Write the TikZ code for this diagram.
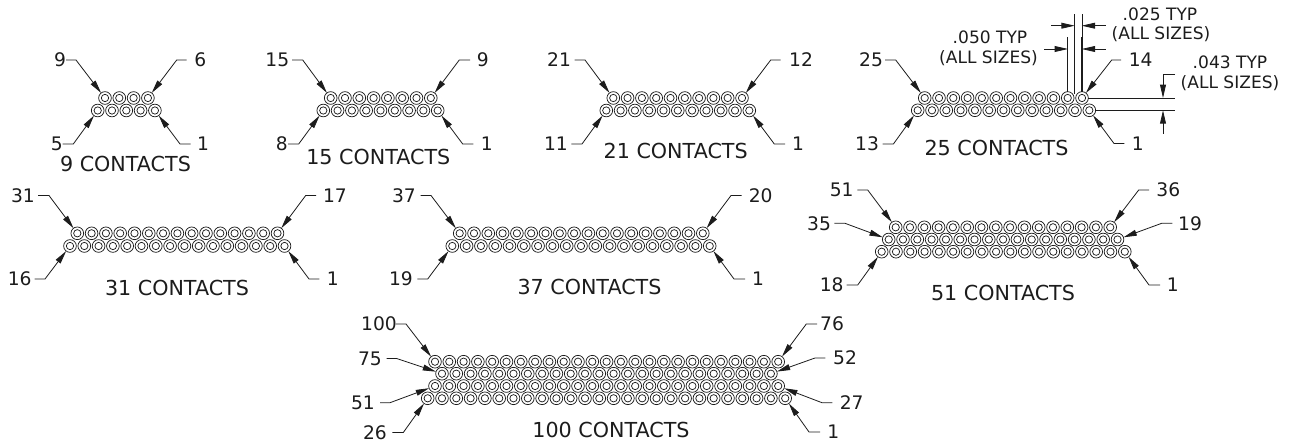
\documentclass[tikz,border=0pt]{standalone}
\usepackage{fontspec}
\setmainfont{DejaVu Sans}
\usetikzlibrary{arrows.meta}
\definecolor{ink}{HTML}{1C1C1C}
\tikzset{
  pin/.style={circle,draw=ink,line width=0.55pt,minimum size=9.5pt,inner sep=0pt,outer sep=0pt,
    path picture={\draw[ink,line width=0.55pt] (path picture bounding box.center) circle (2.75pt);}},
  num/.style={font=\fontsize{14}{16}\selectfont,text=ink,inner sep=0pt,anchor=center},
  title/.style={font=\fontsize{15.5}{18}\selectfont,text=ink,inner sep=0pt,anchor=center},
  small/.style={font=\fontsize{12.8}{15}\selectfont,text=ink,inner sep=0pt,anchor=center},
  leader/.style={draw=ink,line width=0.6pt,-{Triangle[length=10pt,width=4.4pt]}},
  ext/.style={draw=ink,line width=0.6pt},
}
% \Row{prefix}{row}{x of first}{y}{count}
\newcommand{\Row}[5]{%
  \foreach \k in {1,...,#5}{%
    \pgfmathsetmacro{\xx}{#3+(\k-1)*14.3}
    \node[pin] (#1-#2-\k) at (\xx,#4) {};
  }}
% \Lead{name}{text}{text x}{y}{landing x}{elbow x}{pin}
\newcommand{\Lead}[7]{%
  \node[num] (#1) at (#3,#4) {#2};
  \coordinate (#1-l) at (#5,#4);
  \coordinate (#1-e) at (#6,#4);
  \draw[leader] (#1-l) -- (#1-e) -- (#7);
}
\begin{document}
\begin{tikzpicture}[x=0.75pt,y=-0.75pt]
\useasboundingbox (0,0) rectangle (1290,442);
% 9
\Row{a}{1}{105}{98}{4}
\Row{a}{2}{97.7}{110.5}{5}
\Lead{a9}{9}{60}{60}{66}{76}{a-1-1}
\Lead{a6}{6}{200.3}{60}{186.7}{176.7}{a-1-4}
\Lead{a5}{5}{56.7}{144}{62.7}{73.3}{a-2-1}
\Lead{a1}{1}{203}{144}{190.7}{180}{a-2-5}
\node[title] (atitle) at (125.5,164.3) {9 CONTACTS};
% 15
\Row{b}{1}{330.7}{98}{8}
\Row{b}{2}{323.3}{110.5}{9}
\Lead{b15}{15}{277.3}{60}{292}{302.7}{b-1-1}
\Lead{b9}{9}{482.7}{60}{470}{459.3}{b-1-8}
\Lead{b8}{8}{281.7}{144}{288}{298.7}{b-2-1}
\Lead{b1}{1}{486.7}{144}{473.3}{462.7}{b-2-9}
\node[title] (btitle) at (378.3,156.7) {15 CONTACTS};
% 21
\Row{c}{1}{613.3}{98}{10}
\Row{c}{2}{606.3}{110.5}{11}
\Lead{c21}{21}{559}{60}{574.7}{585}{c-1-1}
\Lead{c12}{12}{801}{60}{780.7}{770.7}{c-1-10}
\Lead{c11}{11}{556}{144}{571.3}{582}{c-2-1}
\Lead{c1}{1}{798}{144}{785}{774.3}{c-2-11}
\node[title] (ctitle) at (675.7,151) {21 CONTACTS};
% 25
\Row{d}{1}{924.7}{98}{12}
\Row{d}{2}{917.7}{110.3}{13}
\Lead{d25}{25}{871}{60}{885}{895.7}{d-1-1}
\Lead{d14}{14}{1140.7}{60}{1121}{1111.7}{d-1-12}
\Lead{d13}{13}{867}{144}{882.7}{893.4}{d-2-1}
\Lead{d1}{1}{1137.7}{143.5}{1124.3}{1114}{d-2-13}
\node[title] (dtitle) at (996.5,147.7) {25 CONTACTS};
% dimensions
\node[small] (t025a) at (1160,14) {.025 TYP};
\node[small] (t025b) at (1161,34.3) {(ALL SIZES)};
\node[small] (t050a) at (990,37.5) {.050 TYP};
\node[small] (t050b) at (988.5,58.3) {(ALL SIZES)};
\node[small] (t043a) at (1230,62.3) {.043 TYP};
\node[small] (t043b) at (1230,83.3) {(ALL SIZES)};
\draw[ext] (d-1-11.north) -- ++(0,-54.5) coordinate (v50);
\draw[ext] (1074.7,94) coordinate (v25b) -- (1074.7,14) coordinate (v25);
\draw[ext] (d-1-12.north) -- ++(0,-77.7) coordinate (v14);
\draw[ext,line width=0.9pt] (d-1-12.north) -- ++(0,-54.5);
\draw[ext] (d-1-12.east) -- (1175,98) coordinate (h1);
\draw[ext] (d-2-13.east) -- (1175,110.3) coordinate (h2);
\coordinate (q1) at (1051,25.7); \coordinate (q2) at (1074.7,25.7);
\coordinate (q3) at (1105.7,25.7); \coordinate (q4) at (1081.7,25.7);
\draw[leader] (q1) -- (q2);
\draw[leader] (q3) -- (q4);
\coordinate (r1) at (1044,49); \coordinate (r2) at (1068,49);
\coordinate (r3) at (1105.7,49); \coordinate (r4) at (1081.7,49);
\draw[leader] (r1) -- (r2);
\draw[leader] (r3) -- (r4);
\coordinate (s1) at (1175,74.7); \coordinate (s2) at (1163,74.7); \coordinate (s3) at (1163,98);
\draw[leader] (s1) -- (s2) -- (s3);
\coordinate (u1) at (1163,134); \coordinate (u2) at (1163,110.3);
\draw[leader] (u1) -- (u2);
% 31
\Row{e}{1}{77.3}{233.3}{15}
\Row{e}{2}{70}{246}{16}
\Lead{e31}{31}{23}{195.5}{38}{49}{e-1-1}
\Lead{e17}{17}{335}{195.5}{316}{305.7}{e-1-15}
\Lead{e16}{16}{19.7}{279}{34.7}{45}{e-2-1}
\Lead{e1}{1}{332.7}{279}{319.3}{309}{e-2-16}
\node[title] (etitle) at (177,288) {31 CONTACTS};
% 37
\Row{f}{1}{459.7}{233.3}{18}
\Row{f}{2}{452.3}{246}{19}
\Lead{f37}{37}{404}{195.5}{420.7}{431}{f-1-1}
\Lead{f20}{20}{760.7}{195.5}{741.7}{731}{f-1-18}
\Lead{f19}{19}{401}{279}{417.3}{427.7}{f-2-1}
\Lead{f1}{1}{758}{279}{745}{734}{f-2-19}
\node[title] (ftitle) at (589.5,287) {37 CONTACTS};
% 51
\Row{g}{1}{895.7}{227.3}{16}
\Row{g}{2}{888.7}{239.5}{17}
\Row{g}{3}{881.7}{251.7}{18}
\Lead{g51}{51}{841.7}{190}{857.3}{867.7}{g-1-1}
\Lead{g35}{35}{819}{223.3}{834.3}{845}{g-2-1}
\Lead{g18}{18}{831.7}{285}{846.7}{857.7}{g-3-1}
\Lead{g36}{36}{1168.3}{190}{1149}{1138.7}{g-1-16}
\Lead{g19}{19}{1190}{223.3}{1172.3}{1161.7}{g-2-17}
\Lead{g1}{1}{1172.7}{285}{1160}{1149}{g-3-18}
\node[title] (gtitle) at (1003,293) {51 CONTACTS};
% 100
\Row{h}{1}{435}{361.7}{25}
\Row{h}{2}{442}{373.7}{24}
\Row{h}{3}{435}{386}{25}
\Row{h}{4}{427.7}{398.3}{26}
\Lead{h100}{100}{379}{324}{395.5}{406}{h-1-1}
\Lead{h75}{75}{370}{358.5}{386.7}{396.7}{h-2-1}
\Lead{h51}{51}{363}{402.7}{380}{390}{h-3-1}
\Lead{h26}{26}{375}{432.5}{392.3}{403.3}{h-4-1}
\Lead{h76}{76}{832}{324}{817}{806.3}{h-1-25}
\Lead{h52}{52}{845}{358}{825.3}{815}{h-2-24}
\Lead{h27}{27}{851.7}{402.7}{832.3}{822}{h-3-25}
\Lead{h1}{1}{833.3}{432}{820}{809}{h-4-26}
\node[title] (htitle) at (611,430) {100 CONTACTS};
\end{tikzpicture}
\end{document}
